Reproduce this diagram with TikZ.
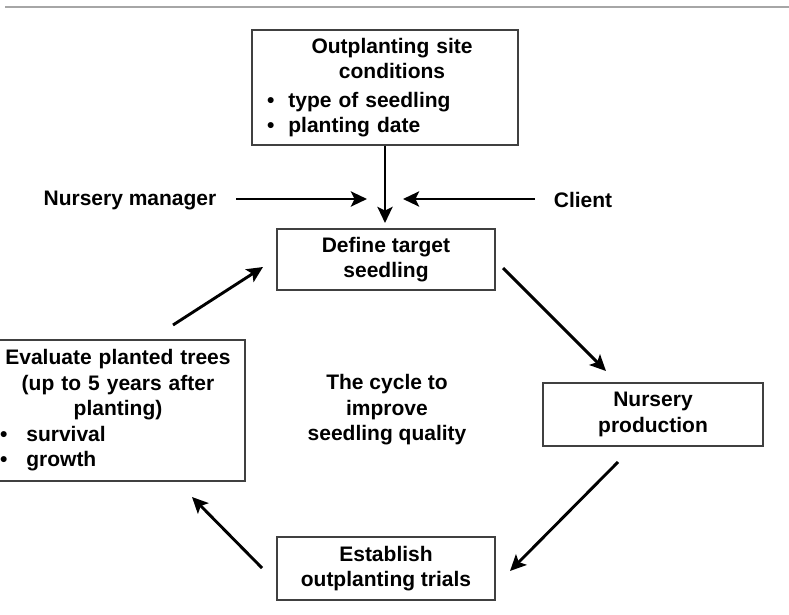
\documentclass[tikz,border=0pt]{standalone}
\usepackage{fontspec}
\setmainfont{Liberation Sans}
\usetikzlibrary{arrows.meta}

\begin{document}
\begin{tikzpicture}[x=1pt,y=-1pt,font=\fontsize{21}{25.5}\selectfont\bfseries]
\tikzset{box/.style = {draw=black!75,line width=1.1pt,inner sep=0pt,align=center}}
\tikzset{listbox/.style = {box,align=left}}
\tikzset{edge/.style = {-{Stealth[length=16pt,width=15pt,inset=3.5pt]},line width=2.9pt}}
\useasboundingbox (0,0) rectangle (789,615);
\clip (0,0) rectangle (789,615);
\draw[black!35,line width=1.4pt] (5,7) -- (789,7);
% boxes
\node[listbox,minimum width=266pt,minimum height=115pt,text width=236pt] (site) at (385,87.5)
 {{\centering\hspace*{14pt}Outplanting site\\\hspace*{14pt}conditions\par}
  \vspace{3pt}
  \textbullet\hspace{14pt}type of seedling\\
  \textbullet\hspace{14pt}planting date};
\node[box,minimum width=218pt,minimum height=61pt] (target) at (386,259.5) {Define target\\seedling};
\node[box,minimum width=220pt,minimum height=63pt] (nursery) at (653,414.5) {Nursery\\production};
\node[box,minimum width=218pt,minimum height=63pt] (trials) at (386,568.5) {Establish\\outplanting trials};
\node[listbox,minimum width=254pt,minimum height=141pt,text width=236pt] (evaluate) at (118,410.5)
 {{\centering Evaluate planted trees\\(up to 5 years after\\planting)\par}
  \textbullet\hspace{19pt}survival\\
  \textbullet\hspace{19pt}growth};
\node[align=center] (cycle) at (387,410) {The cycle to\\improve\\seedling quality};
\node (manager) at (130,200) {Nursery manager};
\node (client) at (583,200) {Client};
% arrow ends
\coordinate (hub) at (385,223);
\coordinate (mgrtail) at (236,199);
\coordinate (mgrhead) at (367,199);
\coordinate (clitail) at (535,199);
\coordinate (clihead) at (403,199);
\coordinate (a1) at (503,268);
\coordinate (a2) at (606,371);
\coordinate (b1) at (618,462);
\coordinate (b2) at (510,571);
\coordinate (c1) at (262,568);
\coordinate (c2) at (192,497);
\coordinate (d1) at (173,325);
\coordinate (d2) at (263,267);
\draw[edge] (site.south) -- (hub);
\draw[edge] (mgrtail) -- (mgrhead);
\draw[edge] (clitail) -- (clihead);
\draw[edge] (a1) -- (a2);
\draw[edge] (b1) -- (b2);
\draw[edge] (c1) -- (c2);
\draw[edge] (d1) -- (d2);
\end{tikzpicture}
\end{document}
